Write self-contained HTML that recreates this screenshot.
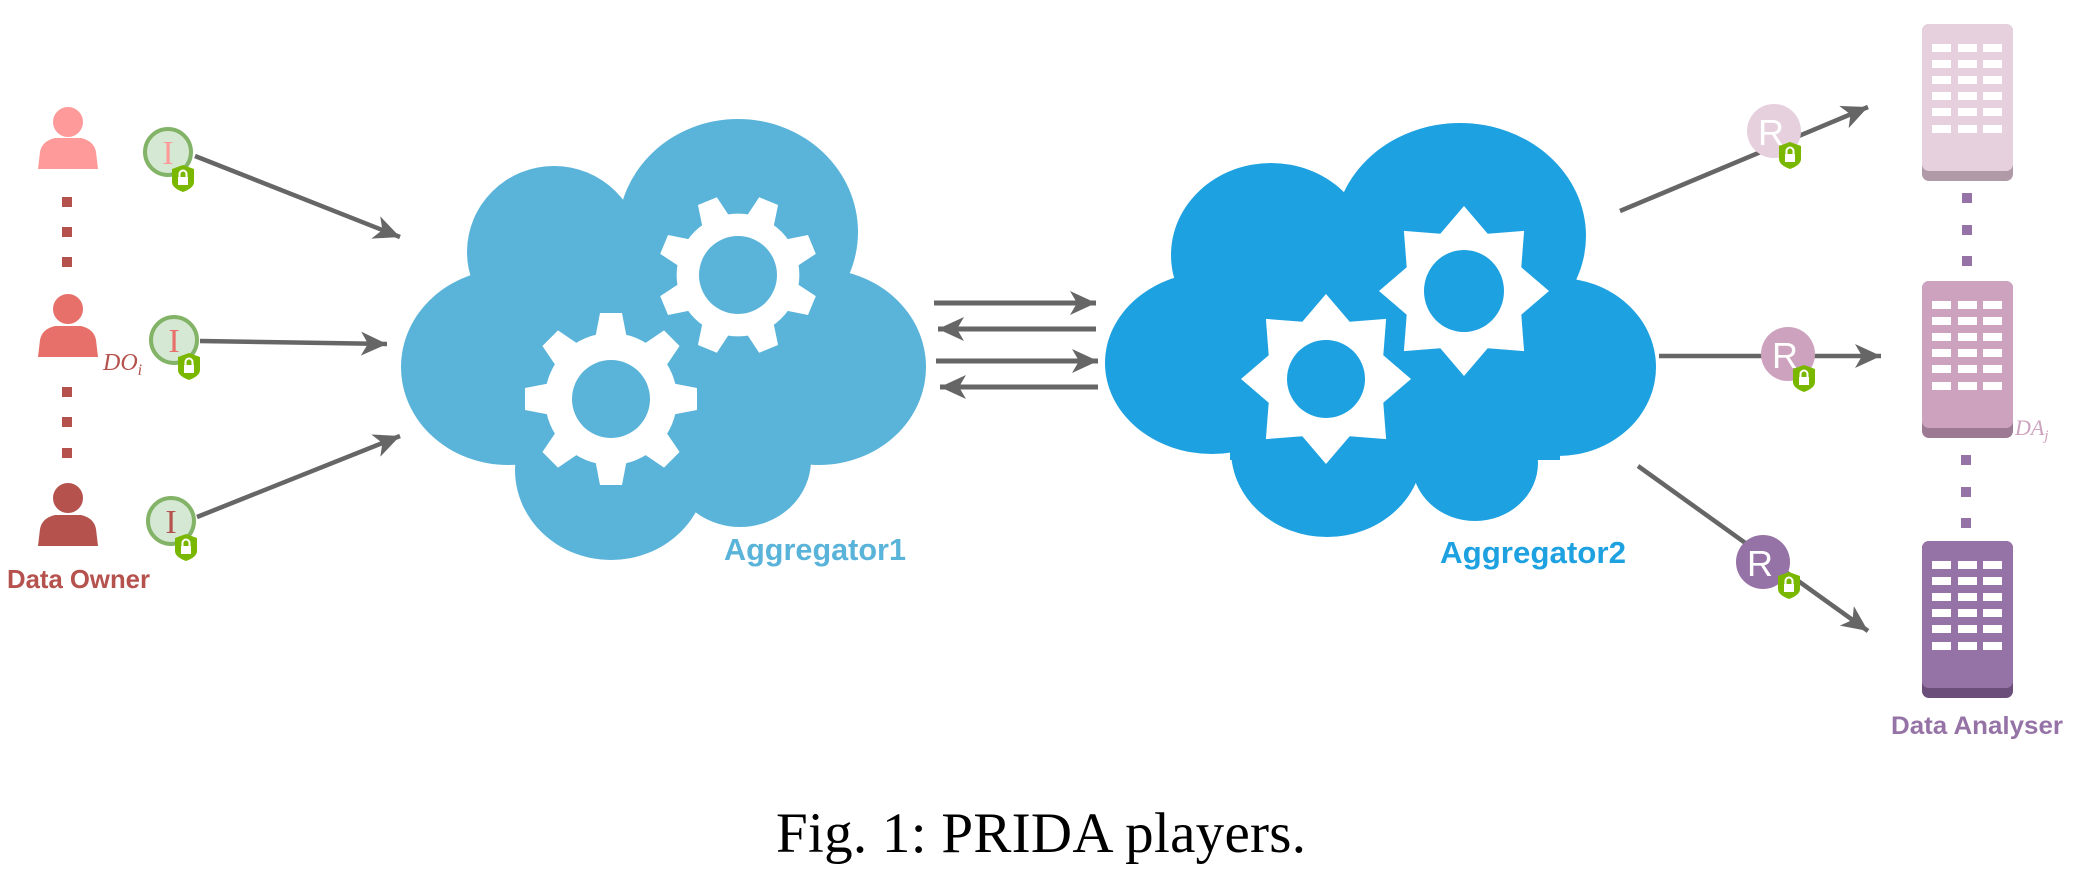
<!DOCTYPE html>
<html><head><meta charset="utf-8"><style>
html,body{margin:0;padding:0;background:#fff;}
svg{display:block;}
</style></head><body>
<svg width="2090" height="872" viewBox="0 0 2090 872" xmlns="http://www.w3.org/2000/svg">
<defs>
<marker id="ah" markerUnits="userSpaceOnUse" markerWidth="28" markerHeight="26" refX="26" refY="12" orient="auto">
<path d="M0,0 L26,12 L0,24 L7,12 Z" fill="#666"/>
</marker>
<g id="lock">
<path d="M-11,-9 L0,-13 L11,-9 L11,4 Q11,10 0,14 Q-11,10 -11,4 Z" fill="#7ab800"/>
<path d="M-3.5,-1 v-3 a3.5,3.5 0 0 1 7,0 v3" fill="none" stroke="#fff" stroke-width="2"/>
<rect x="-5" y="-1" width="10" height="8" fill="#fff"/>
</g>
<polygon id="star" points="0,-85 23.7,-57.3 60.1,-60.1 57.3,-23.7 85,0 57.3,23.7 60.1,60.1 23.7,57.3 0,85 -23.7,57.3 -60.1,60.1 -57.3,23.7 -85,0 -57.3,-23.7 -60.1,-60.1 -23.7,-57.3" fill="#fff"/>
<g id="gear">
<circle r="66" fill="#fff"/>
<g fill="#fff">
<path d="M-11,-86 L11,-86 L16,-60 L-16,-60 Z"/>
<path d="M-11,-86 L11,-86 L16,-60 L-16,-60 Z" transform="rotate(45)"/>
<path d="M-11,-86 L11,-86 L16,-60 L-16,-60 Z" transform="rotate(90)"/>
<path d="M-11,-86 L11,-86 L16,-60 L-16,-60 Z" transform="rotate(135)"/>
<path d="M-11,-86 L11,-86 L16,-60 L-16,-60 Z" transform="rotate(180)"/>
<path d="M-11,-86 L11,-86 L16,-60 L-16,-60 Z" transform="rotate(225)"/>
<path d="M-11,-86 L11,-86 L16,-60 L-16,-60 Z" transform="rotate(270)"/>
<path d="M-11,-86 L11,-86 L16,-60 L-16,-60 Z" transform="rotate(315)"/>
</g>
</g>
</defs>

<!-- Data owners -->
<g>
<circle cx="68" cy="122" r="16" fill="#ff9a9a" stroke="#fff" stroke-width="2"/>
<path d="M38,169 L40,152 Q42,141 55,138 L81,138 Q94,141 96,152 L98,169 Z" fill="#ff9a9a"/>
<circle cx="68" cy="309" r="16" fill="#e8706a" stroke="#fff" stroke-width="2"/>
<path d="M38,357 L40,340 Q42,329 55,326 L81,326 Q94,329 96,340 L98,357 Z" fill="#e8706a"/>
<circle cx="68" cy="498" r="16" fill="#b5524e" stroke="#fff" stroke-width="2"/>
<path d="M38,546 L40,529 Q42,518 55,515 L81,515 Q94,518 96,529 L98,546 Z" fill="#b5524e"/>
<g fill="#b5524e">
<rect x="62" y="197" width="10" height="10"/><rect x="62" y="227" width="10" height="10"/><rect x="62" y="257" width="10" height="10"/>
<rect x="62" y="387" width="10" height="10"/><rect x="62" y="417" width="10" height="10"/><rect x="62" y="448" width="10" height="10"/>
</g>
<text x="103" y="370" font-family="Liberation Serif, serif" font-style="italic" font-size="24" fill="#b5524e">DO<tspan font-size="16" dy="5">i</tspan></text>
<text x="7" y="588" font-family="Liberation Sans, sans-serif" font-weight="bold" font-size="26" fill="#b5524e" textLength="143" lengthAdjust="spacingAndGlyphs">Data Owner</text>
</g>

<!-- arrows left -->
<g stroke="#666" stroke-width="4.5" fill="none">
<line x1="195" y1="156" x2="400" y2="237" marker-end="url(#ah)"/>
<line x1="200" y1="341" x2="387" y2="344" marker-end="url(#ah)"/>
<line x1="197" y1="517" x2="400" y2="436" marker-end="url(#ah)"/>
</g>

<!-- I badges -->
<g font-family="Liberation Serif, serif" font-size="34" text-anchor="middle">
<circle cx="168" cy="152" r="23" fill="#d5e8d4" stroke="#82b366" stroke-width="4"/>
<text x="168" y="164" fill="#ff9a9a">I</text>
<use href="#lock" x="183" y="178"/>
<circle cx="174" cy="340" r="23" fill="#d5e8d4" stroke="#82b366" stroke-width="4"/>
<text x="174" y="352" fill="#e8706a">I</text>
<use href="#lock" x="189" y="366"/>
<circle cx="171" cy="521" r="23" fill="#d5e8d4" stroke="#82b366" stroke-width="4"/>
<text x="171" y="533" fill="#b5524e">I</text>
<use href="#lock" x="186" y="547"/>
</g>

<!-- Cloud 1 -->
<g fill="#5ab3d9">
<ellipse cx="554" cy="252" rx="87" ry="86"/>
<ellipse cx="738" cy="232" rx="120" ry="113"/>
<ellipse cx="508" cy="367" rx="107" ry="98"/>
<ellipse cx="819" cy="367" rx="107" ry="98"/>
<ellipse cx="611" cy="470" rx="96" ry="90"/>
<ellipse cx="740" cy="460" rx="71" ry="67"/>
<rect x="520" y="260" width="300" height="200"/>
</g>
<use href="#gear" transform="translate(738,275) rotate(22.5) scale(0.93)"/>
<circle cx="738" cy="275" r="39" fill="#5ab3d9"/>
<use href="#gear" transform="translate(611,399)"/>
<circle cx="611" cy="399" r="39" fill="#5ab3d9"/>
<text x="724" y="560" font-family="Liberation Sans, sans-serif" font-weight="bold" font-size="31" fill="#5ab3d9" textLength="182" lengthAdjust="spacingAndGlyphs">Aggregator1</text>

<!-- middle arrows -->
<g stroke="#666" stroke-width="5" fill="none">
<line x1="934" y1="303" x2="1096" y2="303" marker-end="url(#ah)"/>
<line x1="1096" y1="329" x2="938" y2="329" marker-end="url(#ah)"/>
<line x1="936" y1="361" x2="1098" y2="361" marker-end="url(#ah)"/>
<line x1="1098" y1="387" x2="940" y2="387" marker-end="url(#ah)"/>
</g>

<!-- Cloud 2 -->
<g fill="#1ea1e0">
<ellipse cx="1271" cy="255" rx="100" ry="92"/>
<ellipse cx="1460" cy="236" rx="126" ry="113"/>
<ellipse cx="1212" cy="363" rx="107" ry="91"/>
<ellipse cx="1558" cy="367" rx="98" ry="89"/>
<ellipse cx="1327" cy="450" rx="96" ry="87"/>
<ellipse cx="1475" cy="463" rx="63" ry="58"/>
<rect x="1230" y="260" width="330" height="200"/>
</g>
<use href="#star" transform="translate(1464,291)"/>
<ellipse cx="1464" cy="291" rx="40" ry="41" fill="#1ea1e0"/>
<use href="#star" transform="translate(1326,379) scale(1.0)"/>
<circle cx="1326" cy="379" r="39" fill="#1ea1e0"/>
<text x="1440" y="563" font-family="Liberation Sans, sans-serif" font-weight="bold" font-size="31" fill="#1ea1e0" textLength="186" lengthAdjust="spacingAndGlyphs">Aggregator2</text>

<!-- right arrows -->
<g stroke="#666" stroke-width="4.5" fill="none">
<line x1="1620" y1="211" x2="1868" y2="107" marker-end="url(#ah)"/>
<line x1="1659" y1="356" x2="1881" y2="356" marker-end="url(#ah)"/>
<line x1="1638" y1="466" x2="1868" y2="631" marker-end="url(#ah)"/>
</g>

<!-- R badges -->
<g font-family="Liberation Sans, sans-serif" font-size="36" fill="#fff" text-anchor="middle">
<circle cx="1774" cy="131" r="27" fill="#e6d0de"/>
<text x="1771" y="145">R</text>
<use href="#lock" x="1790" y="155"/>
<circle cx="1788" cy="354" r="27" fill="#cda2be"/>
<text x="1785" y="368">R</text>
<use href="#lock" x="1804" y="378"/>
<circle cx="1763" cy="562" r="27" fill="#9673a6"/>
<text x="1760" y="576">R</text>
<use href="#lock" x="1789" y="585"/>
</g>

<!-- Servers -->
<g>
<rect x="1922" y="24" width="91" height="157" rx="7" fill="#b09aa8"/>
<rect x="1922" y="24" width="91" height="147" rx="7" fill="#e6d0de"/>
<rect x="1922" y="281" width="91" height="157" rx="7" fill="#9d7a93"/>
<rect x="1922" y="281" width="91" height="147" rx="7" fill="#cda2be"/>
<rect x="1922" y="541" width="91" height="157" rx="7" fill="#6b4f7a"/>
<rect x="1922" y="541" width="91" height="147" rx="7" fill="#9673a6"/>
</g>
<g fill="#fff" id="win">
<rect x="1932" y="44" width="19" height="8"/><rect x="1958" y="44" width="19" height="8"/><rect x="1983" y="44" width="19" height="8"/>
<rect x="1932" y="60" width="19" height="8"/><rect x="1958" y="60" width="19" height="8"/><rect x="1983" y="60" width="19" height="8"/>
<rect x="1932" y="76" width="19" height="8"/><rect x="1958" y="76" width="19" height="8"/><rect x="1983" y="76" width="19" height="8"/>
<rect x="1932" y="92" width="19" height="8"/><rect x="1958" y="92" width="19" height="8"/><rect x="1983" y="92" width="19" height="8"/>
<rect x="1932" y="108" width="19" height="8"/><rect x="1958" y="108" width="19" height="8"/><rect x="1983" y="108" width="19" height="8"/>
<rect x="1932" y="125" width="19" height="8"/><rect x="1958" y="125" width="19" height="8"/><rect x="1983" y="125" width="19" height="8"/>
</g>
<use href="#win" y="257"/>
<use href="#win" y="517"/>
<g fill="#9673a6">
<rect x="1962" y="193" width="10" height="10"/><rect x="1962" y="225" width="10" height="10"/><rect x="1962" y="256" width="10" height="10"/>
<rect x="1961" y="455" width="10" height="10"/><rect x="1961" y="487" width="10" height="10"/><rect x="1961" y="518" width="10" height="10"/>
</g>
<text x="2015" y="435" font-family="Liberation Serif, serif" font-style="italic" font-size="22" fill="#cda2be">DA<tspan font-size="15" dy="5">j</tspan></text>
<text x="1891" y="734" font-family="Liberation Sans, sans-serif" font-weight="bold" font-size="25" fill="#9673a6" textLength="172" lengthAdjust="spacingAndGlyphs">Data Analyser</text>

<!-- caption -->
<text x="776" y="852" font-family="Liberation Serif, serif" font-size="57" fill="#000" textLength="530">Fig. 1: PRIDA players.</text>
</svg>
</body></html>
